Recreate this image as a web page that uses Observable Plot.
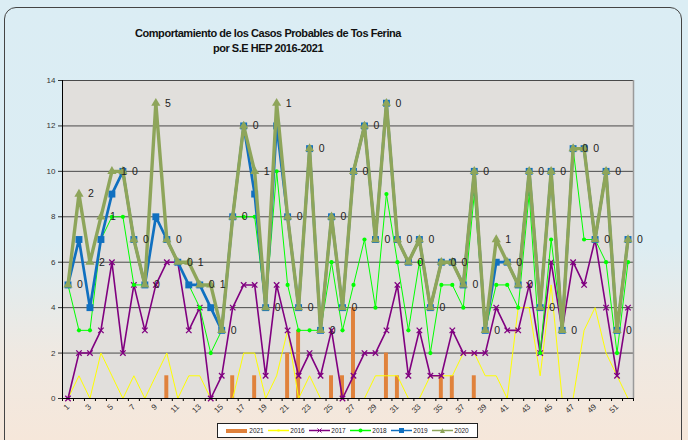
<!DOCTYPE html>
<html><head><meta charset="utf-8">
<script src="https://cdn.jsdelivr.net/npm/d3@7"></script>
<script src="https://cdn.jsdelivr.net/npm/@observablehq/plot@0.6"></script>
<style>
body{margin:0;width:688px;height:440px;overflow:hidden;font-family:"Liberation Sans",Arial,sans-serif;}
#wrap{position:relative;width:688px;height:440px;overflow:hidden;
 background:linear-gradient(to bottom,#dbedf4 0%,#dcedf3 55%,#efe9e2 80%,#f6e7da 100%);}
#border{position:absolute;left:4px;top:7px;width:678px;height:450px;border:1px solid #444;border-radius:12px;box-sizing:border-box;}
#title{position:absolute;left:68px;width:400px;top:26px;text-align:center;font-weight:bold;font-size:11px;line-height:15px;letter-spacing:-0.45px;color:#111;}
#chart{position:absolute;left:0;top:0;}
#legend{position:absolute;left:217px;top:423px;width:261px;height:15px;box-sizing:border-box;border:1px solid #222;background:#fff;
 display:flex;align-items:center;justify-content:space-around;padding:0 6px;font-size:6.5px;color:#222;}
#legend span{display:flex;align-items:center;}
</style></head>
<body>
<div id="wrap">
 <div id="border"></div>
 <div id="title">Comportamiento de los Casos Probables de Tos Ferina<br>por S.E HEP 2016-2021</div>
 <div id="chart"></div>
 <div id="legend"></div>
</div>
<script>
const weeks = [1,2,3,4,5,6,7,8,9,10,11,12,13,14,15,16,17,18,19,20,21,22,23,24,25,26,27,28,29,30,31,32,33,34,35,36,37,38,39,40,41,42,43,44,45,46,47,48,49,50,51,52];
const weekTicks = [1,3,5,7,9,11,13,15,17,19,21,23,25,27,29,31,33,35,37,39,41,43,45,47,49,51];
const yTicks = [0,2,4,6,8,10,12,14];
const cases2021 = [0,0,0,0,0,0,0,0,0,1, 0,0,0,0,0,1,0,1,0,0, 2,3,0,0,1,1,4,0,0,2, 1,0,0,0,1,1,0,1,0,0, 0,0,0,0,0,0,0,0,0,0, 0,0];
const cases2016 = [0,1,0,2,1,0,1,0,1,2, 0,1,1,0,0,0,2,2,0,1, 3,0,1,0,0,0,0,0,1,1, 1,0,0,1,1,1,2,2,1,1, 0,4,4,1,5,0,0,3,4,2, 1,0];
const cases2017 = [0,2,2,3,6,2,5,3,5,6, 6,3,4,0,1,4,5,5,1,5, 3,1,2,1,3,0,1,2,2,3, 5,1,3,1,1,3,2,2,2,4, 3,3,5,2,6,3,6,5,7,4, 1,4];
const cases2018 = [5,3,3,7,8,8,5,5,8,7, 6,5,4,2,3,8,8,8,4,10, 5,3,3,3,6,3,5,7,4,9, 6,3,6,2,5,5,4,9,3,5, 5,4,9,2,7,3,11,7,7,6, 2,6];
const cases2019 = [5,7,4,7,9,10,7,5,8,7, 6,5,5,4,3,8,12,9,4,12, 8,4,11,3,8,4,10,12,7,13, 7,6,7,4,6,6,5,10,3,6, 6,5,10,4,10,3,11,11,7,10, 3,7];
const cases2020 = [5,9,6,8,10,10,7,5,13,7, 6,6,5,5,3,8,12,10,4,13, 8,4,11,3,8,4,10,12,7,13, 7,6,7,4,6,6,5,10,3,7, 6,5,10,4,10,3,11,11,7,10, 3,7];
const labels2020 = ["0","2","2","1","1","0","0","0","5","0", "0","1","0","1","0","0","0","1","0","1", "0","0","0","0","0","0","0","0","0","0", "0","0","0","0","0","0","0","0","0","1", "0","0","0","0","0","0","0","0","0","0", "0","0"];
const seriesNames = ["2021","2016","2017","2018","2019","2020"];
const seriesColors = ["#e0823c","#ffff00","#800080","#00ff00","#1070c0","#8ea55a"];

const [c21,c16,c17,c18,c19,c20] = seriesColors;
const bounds = [0.5].concat(weeks.map(w => w + 0.5));

const chart = Plot.plot({
  width: 688, height: 440,
  marginLeft: 62, marginRight: 55, marginTop: 80, marginBottom: 42,
  style: {background: "transparent", fontFamily: "Liberation Sans, Arial, sans-serif"},
  x: {type: "linear", domain: [0.5, 52.5], axis: null},
  y: {domain: [0, 14], axis: null},
  marks: [
    Plot.frame({fill: "#e1dfdc", stroke: null}),
    Plot.ruleY(yTicks.slice(1), {stroke: "#4a4a4a", strokeWidth: 1}),
    Plot.ruleX([52.5], {stroke: "#9a9a9a", strokeWidth: 1.5}),
    Plot.rectY(cases2021, {x1: weeks.map(w => w - 0.18), x2: weeks.map(w => w + 0.18), y: d => d, fill: c21}),
    Plot.lineY(cases2016, {x: weeks, y: d => d, stroke: c16, strokeWidth: 1}),
    Plot.lineY(cases2017, {x: weeks, y: d => d, stroke: c17, strokeWidth: 1.6}),
    Plot.dot(cases2017, {x: weeks, y: d => d, symbol: "times", r: 2.6, stroke: c17, strokeWidth: 1.3}),
    Plot.lineY(cases2018, {x: weeks, y: d => d, stroke: c18, strokeWidth: 1}),
    Plot.dot(cases2018, {x: weeks, y: d => d, symbol: "circle", r: 2.1, fill: c18}),
    Plot.lineY(cases2019, {x: weeks, y: d => d, stroke: c19, strokeWidth: 2.7}),
    Plot.dot(cases2019, {x: weeks, y: d => d, symbol: "square", r: 3.9, fill: c19}),
    Plot.lineY(cases2020, {x: weeks, y: d => d, stroke: c20, strokeWidth: 3.4}),
    Plot.dot(cases2020, {x: weeks, y: d => d, symbol: "triangle", r: 3.4, fill: c20}),
    Plot.text(cases2020, {x: weeks, y: d => d, text: labels2020, dx: 12, fontSize: 10.5, fill: "#222"}),
    Plot.ruleX([0.5], {stroke: "#000", strokeWidth: 1}),
    Plot.ruleY([0], {stroke: "#000", strokeWidth: 1}),
    Plot.axisY({ticks: yTicks, tickSize: 4, tickPadding: 3, fontSize: 8, label: null, color: "#333"}),
    Plot.axisX({ticks: bounds, tickSize: 3, tickFormat: () => "", label: null}),
    Plot.axisX({ticks: weekTicks, tickSize: 0, tickPadding: 7, tickRotate: -45, fontSize: 8, label: null, color: "#333"})
  ]
});
document.getElementById("chart").appendChild(chart);

// legend
const legend = document.getElementById("legend");
seriesNames.forEach((name, i) => {
  const span = document.createElement("span");
  let sw;
  if (i === 0) {
    sw = `<svg width="22" height="6"><rect x="0" y="1" width="21" height="4" fill="${seriesColors[i]}"/></svg>`;
  } else {
    const sym = ["", "<rect x='9.5' y='1.5' width='2' height='2' fill='" + seriesColors[i] + "'/>",
      "<path d='M8.5 0.5L12.5 4.5M12.5 0.5L8.5 4.5' stroke='" + seriesColors[i] + "' stroke-width='1'/>",
      "<circle cx='10.5' cy='2.5' r='2' fill='" + seriesColors[i] + "'/>",
      "<rect x='8' y='0' width='5' height='5' fill='" + seriesColors[i] + "'/>",
      "<path d='M10.5 0L13 5L8 5Z' fill='" + seriesColors[i] + "'/>"][i];
    sw = `<svg width="21" height="5"><line x1="0" y1="2.5" x2="21" y2="2.5" stroke="${seriesColors[i]}" stroke-width="1.5"/>${sym}</svg>`;
  }
  span.innerHTML = sw + `<span style="margin-left:1px">${name}</span>`;
  legend.appendChild(span);
});
</script>
</body></html>
